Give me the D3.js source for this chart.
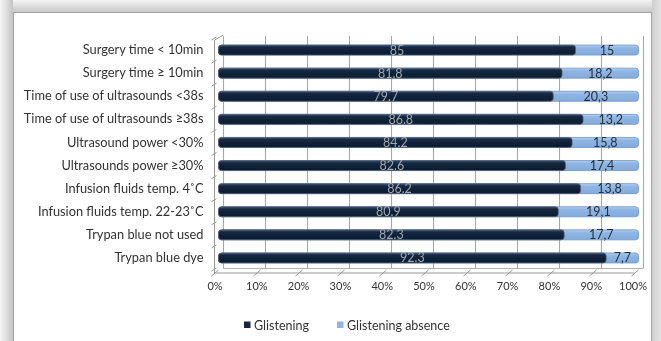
<!DOCTYPE html>
<html>
<head>
<meta charset="utf-8">
<script src="https://cdn.jsdelivr.net/npm/d3@7/dist/d3.min.js"></script>
<style>
  html, body { margin: 0; padding: 0; background: #fff; }
  svg { display: block; }
  text { font-family: Lato, "Open Sans", sans-serif; }
</style>
</head>
<body>
<svg id="chart" width="661" height="341"></svg>
<script>
// Rows, top to bottom
const categories = [
  "Surgery time < 10min",
  "Surgery time \u2265 10min",
  "Time of use of ultrasounds <38s",
  "Time of use of ultrasounds \u226538s",
  "Ultrasound power <30%",
  "Ultrasounds power \u226530%",
  "Infusion fluids temp. 4\u02DAC",
  "Infusion fluids temp. 22-23\u02DAC",
  "Trypan blue not used",
  "Trypan blue dye"
];
// Percent of eyes with glistening, and without
const glistening = [85, 81.8, 79.7, 86.8, 84.2, 82.6, 86.2, 80.9, 82.3, 92.3];
const glisteningAbsence = [15, 18.2, 20.3, 13.2, 15.8, 17.4, 13.8, 19.1, 17.7, 7.7];
const seriesNames = ["Glistening", "Glistening absence"];
const xTicks = [0, 10, 20, 30, 40, 50, 60, 70, 80, 90, 100];

const W = 661, H = 341;
const svg = d3.select("#chart");
const defs = svg.append("defs");

// soft shadow around the framed chart
const gl = defs.append("linearGradient").attr("id", "shL").attr("x1", 0).attr("x2", 1);
gl.append("stop").attr("offset", 0).attr("stop-color", "#f6f6f6");
gl.append("stop").attr("offset", 1).attr("stop-color", "#c4c4c4");
const gt = defs.append("linearGradient").attr("id", "shT").attr("x1", 0).attr("x2", 0).attr("y1", 0).attr("y2", 1);
gt.append("stop").attr("offset", 0).attr("stop-color", "#f4f4f4");
gt.append("stop").attr("offset", 1).attr("stop-color", "#c8c8c8");
const gr = defs.append("linearGradient").attr("id", "shR").attr("x1", 0).attr("x2", 1);
gr.append("stop").attr("offset", 0).attr("stop-color", "#cfcfcf");
gr.append("stop").attr("offset", 1).attr("stop-color", "#e4e4e4");

const darkGrad = defs.append("linearGradient").attr("id", "darkBar").attr("x1", 0).attr("x2", 0).attr("y1", 0).attr("y2", 1);
darkGrad.append("stop").attr("offset", 0).attr("stop-color", "#3a5070");
darkGrad.append("stop").attr("offset", 0.25).attr("stop-color", "#14273f");
darkGrad.append("stop").attr("offset", 1).attr("stop-color", "#0c1c31");
const lightGrad = defs.append("linearGradient").attr("id", "lightBar").attr("x1", 0).attr("x2", 0).attr("y1", 0).attr("y2", 1);
lightGrad.append("stop").attr("offset", 0).attr("stop-color", "#b7d0ee");
lightGrad.append("stop").attr("offset", 0.3).attr("stop-color", "#8eb5e3");
lightGrad.append("stop").attr("offset", 1).attr("stop-color", "#83acdc");

const soft = defs.append("filter").attr("id", "soft");
soft.append("feGaussianBlur").attr("stdDeviation", 0.5);

svg.append("rect").attr("width", W).attr("height", H).attr("fill", "#e2e2e2");
svg.append("rect").attr("x", 0).attr("y", 0).attr("width", 13).attr("height", H).attr("fill", "url(#shL)");
svg.append("rect").attr("x", 13).attr("y", 0).attr("width", 639).attr("height", 12).attr("fill", "url(#shT)");
svg.append("rect").attr("x", 652).attr("y", 0).attr("width", 9).attr("height", H).attr("fill", "url(#shR)");
svg.append("rect").attr("x", 13.5).attr("y", 12.5).attr("width", 638).attr("height", 340)
  .attr("fill", "#fff").attr("stroke", "#a3a3a3");

const g = svg.append("g").attr("filter", "url(#soft)");

// scales: bars sit at mid depth, back wall is shifted right/up, front axis left/down
const x = d3.scaleLinear().domain([0, 100]).range([218.5, 638.5]);
const backDx = 5;
const frontDx = -4;
const y = d3.scaleBand().domain(categories).range([38.5, 269.5]);
const barH = 10;

// back wall gridlines
const floorBackY = 268.5, floorFrontY = 273;
g.append("g").selectAll("line").data(xTicks).join("line")
  .attr("x1", d => x(d) + backDx).attr("x2", d => x(d) + backDx)
  .attr("y1", 36).attr("y2", floorBackY)
  .attr("stroke", "#a8a8a8").attr("stroke-width", 1.1);

// floor / left wall edges
g.append("line").attr("x1", x(0) + backDx).attr("x2", x(100) + backDx)
  .attr("y1", floorBackY).attr("y2", floorBackY).attr("stroke", "#b5b5b5");
g.append("line").attr("x1", x(0) + frontDx).attr("x2", x(100) + frontDx)
  .attr("y1", floorFrontY).attr("y2", floorFrontY).attr("stroke", "#9a9a9a").attr("stroke-width", 1.1);
g.append("line").attr("x1", x(0) + frontDx).attr("x2", x(0) + frontDx)
  .attr("y1", 40).attr("y2", floorFrontY).attr("stroke", "#9a9a9a").attr("stroke-width", 1.1);
g.append("line").attr("x1", x(0) + frontDx).attr("x2", x(0) + backDx)
  .attr("y1", 40).attr("y2", 35).attr("stroke", "#9a9a9a");
// slanted ticks on the floor
g.append("g").selectAll("line").data(xTicks).join("line")
  .attr("x1", d => x(d) + frontDx - 3).attr("x2", d => x(d) + frontDx + 4)
  .attr("y1", floorFrontY + 3).attr("y2", floorFrontY - 3)
  .attr("stroke", "#9a9a9a");
// ticks on the left wall between rows
const rowEdges = categories.map(c => y(c)).concat([y.range()[1]]);
g.append("g").selectAll("line").data(rowEdges).join("line")
  .attr("x1", x(0) + frontDx - 3).attr("x2", x(0) + frontDx + 2)
  .attr("y1", d => d + 1.5).attr("y2", d => d - 1.5)
  .attr("stroke", "#9a9a9a");

// stacked bars
const rows = categories.map((c, i) => ({ cat: c, a: glistening[i], b: glisteningAbsence[i] }));
const barY = d => y(d.cat) + y.bandwidth() / 2 - barH / 2;

const rowG = g.append("g").selectAll("g").data(rows).join("g");
rowG.append("rect")
  .attr("x", x(0)).attr("y", barY)
  .attr("width", d => x(d.a + d.b) - x(0)).attr("height", barH)
  .attr("rx", 3)
  .attr("fill", "url(#lightBar)").attr("stroke", "#6d93c6").attr("stroke-width", 0.8);
rowG.append("rect")
  .attr("x", x(0)).attr("y", barY)
  .attr("width", d => x(d.a) - x(0)).attr("height", barH)
  .attr("rx", 3)
  .attr("fill", "url(#darkBar)").attr("stroke", "#56657a").attr("stroke-width", 0.8);

// value labels, centred on each segment
const fmtDark = v => String(v);
const fmtLight = v => String(v).replace(".", ",");
rowG.append("text")
  .attr("x", d => x(d.a / 2)).attr("y", d => y(d.cat) + y.bandwidth() / 2 + 4.5)
  .attr("text-anchor", "middle").attr("font-size", 12.5)
  .attr("fill", "#9ea7b3")
  .text(d => fmtDark(d.a));
rowG.append("text")
  .attr("x", d => x(d.a + d.b / 2)).attr("y", d => y(d.cat) + y.bandwidth() / 2 + 4.5)
  .attr("text-anchor", "middle").attr("font-size", 12.5)
  .attr("fill", "#25303d")
  .text(d => fmtLight(d.b));

// category axis
const yAxis = g.append("g").attr("transform", `translate(${x(0) - 15},0)`)
  .call(d3.axisLeft(y).tickSize(0).tickPadding(0));
yAxis.select(".domain").remove();
yAxis.selectAll("text").attr("font-size", 12.8).attr("fill", "#333")
  .attr("font-family", "Lato, 'Open Sans', sans-serif");

// value axis labels
const xLab = d3.scaleLinear().domain([0, 100]).range([x(0) - 4, x(100) - 6]);
const xAxis = g.append("g").attr("transform", `translate(0,${floorFrontY + 9})`)
  .call(d3.axisBottom(xLab).tickValues(xTicks).tickFormat(d => d + "%").tickSize(0).tickPadding(0));
xAxis.select(".domain").remove();
xAxis.selectAll("text").attr("font-size", 11).attr("fill", "#333")
  .attr("font-family", "Lato, 'Open Sans', sans-serif");

// legend
const legend = g.append("g").attr("transform", "translate(244,325)");
const legX = [0, 93];
const legFill = ["#14273f", "#8eb5e3"];
seriesNames.forEach((n, i) => {
  legend.append("rect").attr("x", legX[i]).attr("y", -3.5).attr("width", 6.5).attr("height", 6.5)
    .attr("fill", legFill[i]);
  legend.append("text").attr("x", legX[i] + 10).attr("y", 4.5)
    .attr("font-size", 12.5).attr("fill", "#333").text(n);
});
</script>
</body>
</html>
